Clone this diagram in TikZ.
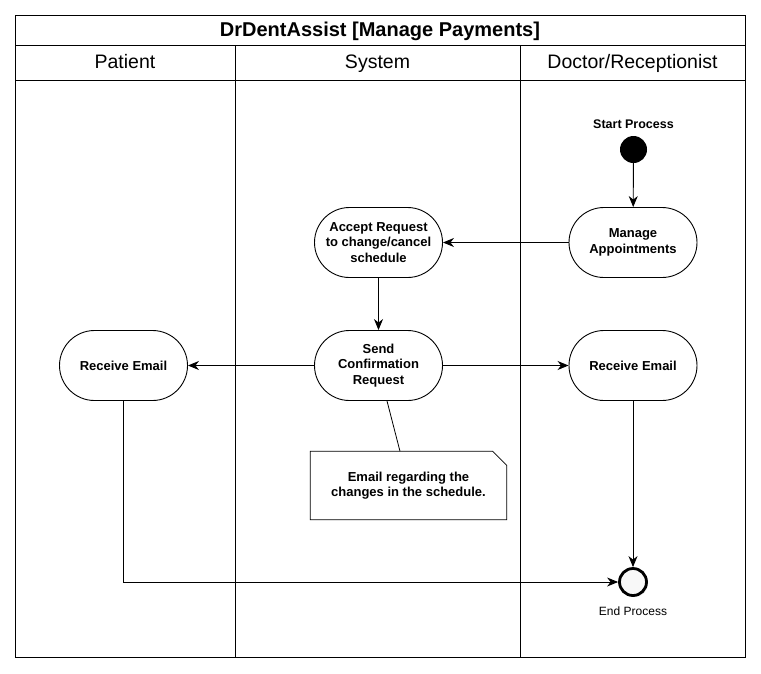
\documentclass[tikz,border=0pt]{standalone}
\usepackage{fontspec}
\setmainfont{Liberation Sans}
\usetikzlibrary{arrows.meta,positioning,shadows}
\definecolor{umlInk}{HTML}{000000}
\definecolor{umlShade}{HTML}{F8F8F8}
\tikzset{
  every picture/.style={font=\fontsize{13}{15.5}\selectfont\bfseries, text=umlInk},
  uml frame/.style={draw=umlInk, line width=1pt},
  uml title/.style={font=\fontsize{20}{24}\selectfont\bfseries,
    text height=14.5pt, text depth=4pt},
  uml lane/.style={font=\fontsize{19.5}{23}\selectfont,
    text height=14pt, text depth=4pt},
  uml action/.style={draw=umlInk, line width=0.9pt, rounded corners=35pt,
    fill=white, align=center, minimum width=128pt, minimum height=70pt, inner sep=2pt},
  uml start/.style={circle, fill=umlInk, minimum size=27pt, inner sep=0pt},
  uml end/.style={circle, draw=umlInk, line width=2.8pt, fill=umlShade,
    minimum size=27pt, inner sep=0pt,
    drop shadow={opacity=0.2, shadow xshift=1.5pt, shadow yshift=-1.5pt}},
  uml note/.style={align=center, minimum width=196pt, minimum height=68pt, inner sep=0pt},
  uml arrow/.style={-{Stealth[length=11pt,width=9pt,inset=3.5pt]},
    draw=umlInk, line width=0.9pt},
  uml link/.style={draw=umlInk, line width=0.8pt}
}
\begin{document}
\begin{tikzpicture}[x=1pt,y=-1pt]
  \useasboundingbox (0,0) rectangle (761,673);
  % swimlanes
  \draw[uml frame] (15,15) rectangle (745,657);
  \draw[uml frame] (15,45) -- (745,45) (15,80) -- (745,80);
  \draw[uml frame] (235,45) -- (235,657) (520,45) -- (520,657);
  \node[uml title] (title) at (380,31) {DrDentAssist [Manage Payments]};
  \node[uml lane] (lanePatient) at (125,63) {Patient};
  \node[uml lane] (laneSystem) at (377.5,63) {System};
  \node[uml lane] (laneDoctor) at (632.5,63) {Doctor/Receptionist};
  % actions
  \node[uml start] (start) at (633.5,149.5) {};
  \node[above=4pt of start, font=\fontsize{12.5}{15}\selectfont\bfseries] (startLabel) {Start Process};
  \node[uml action] (manage) at (633,242.5) {Manage\\Appointments};
  \node[uml action] (accept) at (378.5,242.5) {Accept Request\\to change/cancel\\schedule};
  \node[uml action] (send) at (378.5,365.5) {Send\\Confirmation\\Request};
  \node[uml action] (recvDoctor) at (633,365.5) {Receive Email};
  \node[uml action] (recvPatient) at (123.5,365.5) {Receive Email};
  \node[uml end] (end) at (633,582) {};
  \node[below=6pt of end, font=\fontsize{12}{14}\selectfont] (endLabel) {End Process};
  % note
  \node[uml note] (note) at (408.5,485.5) {Email regarding the\\changes in the schedule.};
  \draw[uml link] (note.north west) -- ([xshift=-14pt]note.north east)
    -- ([yshift=-14pt]note.north east) -- (note.south east) -- (note.south west) -- cycle;
  \draw[uml link] ([xshift=8.5pt]send.south) -- ([xshift=-8.5pt]note.north);
  % flow
  \draw[uml arrow] (start) -- (manage);
  \draw[uml arrow] (manage) -- (accept);
  \draw[uml arrow] (accept) -- (send);
  \draw[uml arrow] (send) -- (recvPatient);
  \draw[uml arrow] (send) -- (recvDoctor);
  \draw[uml arrow] (recvDoctor) -- (end);
  \draw[uml arrow] (recvPatient) |- (end);
\end{tikzpicture}
\end{document}
